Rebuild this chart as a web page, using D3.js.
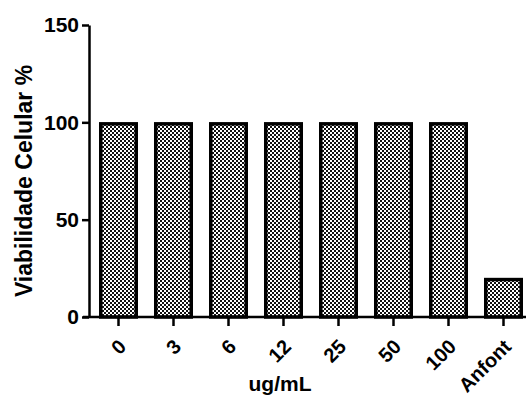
<!DOCTYPE html>
<html>
<head>
<meta charset="utf-8">
<title>Viabilidade Celular</title>
<script src="https://d3js.org/d3.v7.min.js"></script>
<style>
  body { margin: 0; background: #fff; }
  svg text { font-family: "Liberation Sans", Arial, sans-serif; font-weight: bold; fill: #000; }
  .axis path, .axis line { stroke: #000; stroke-width: 2.5px; }
</style>
</head>
<body>
<div id="chart"></div>
<script>
// data
var categories = ["0", "3", "6", "12", "25", "50", "100", "Anfont"];
var viability = [100, 100, 100, 100, 100, 100, 100, 20];
var yTicks = [0, 50, 100, 150];

var width = 526, height = 398;

var svg = d3.select("#chart").append("svg")
  .attr("width", width)
  .attr("height", height);

// checker pattern for the bars
var defs = svg.append("defs");
var pat = defs.append("pattern")
  .attr("id", "checker")
  .attr("patternUnits", "userSpaceOnUse")
  .attr("width", 4).attr("height", 4);
pat.append("rect").attr("width", 4).attr("height", 4).attr("fill", "#fff");
pat.append("rect").attr("width", 2).attr("height", 2).attr("fill", "#111");
pat.append("rect").attr("x", 2).attr("y", 2).attr("width", 2).attr("height", 2).attr("fill", "#111");

var x = d3.scaleBand()
  .domain(categories)
  .range([91, 531])
  .paddingInner(0.3)
  .paddingOuter(0.15);

var y = d3.scaleLinear()
  .domain([0, 150])
  .range([317, 25]);

// bars
svg.selectAll("rect.bar")
  .data(categories)
  .enter().append("rect")
  .attr("class", "bar")
  .attr("x", function(d) { return x(d) + 1.5; })
  .attr("width", x.bandwidth() - 3)
  .attr("y", function(d, i) { return y(viability[i]) + 1.5; })
  .attr("height", function(d, i) { return y(0) - y(viability[i]) - 1.5; })
  .attr("fill", "url(#checker)")
  .attr("stroke", "#000")
  .attr("stroke-width", 3.5);

// y axis
var yAxis = svg.append("g")
  .attr("class", "axis")
  .attr("transform", "translate(89,0)")
  .call(d3.axisLeft(y).tickValues(yTicks).tickSize(7).tickSizeOuter(0).tickPadding(3));
yAxis.selectAll("text").style("font-size", "21px");

// x axis
var xAxis = svg.append("g")
  .attr("class", "axis")
  .attr("transform", "translate(0,317)")
  .call(d3.axisBottom(x).tickSize(9).tickSizeOuter(0));
xAxis.select(".domain").remove();
xAxis.append("line")
  .attr("x1", 83).attr("x2", 526)
  .attr("stroke", "#000").attr("stroke-width", 2.5);
xAxis.selectAll("text")
  .style("font-size", "20px")
  .attr("text-anchor", "end")
  .attr("dy", "0.35em")
  .attr("transform", "translate(4,26) rotate(-45)")
  .attr("y", 0).attr("x", 0);

// axis titles
svg.append("text")
  .attr("x", 280).attr("y", 391)
  .attr("text-anchor", "middle")
  .style("font-size", "21px")
  .text("ug/mL");

svg.append("text")
  .attr("transform", "translate(32,181) rotate(-90)")
  .attr("text-anchor", "middle")
  .style("font-size", "23px")
  .text("Viabilidade Celular %");
</script>
</body>
</html>
